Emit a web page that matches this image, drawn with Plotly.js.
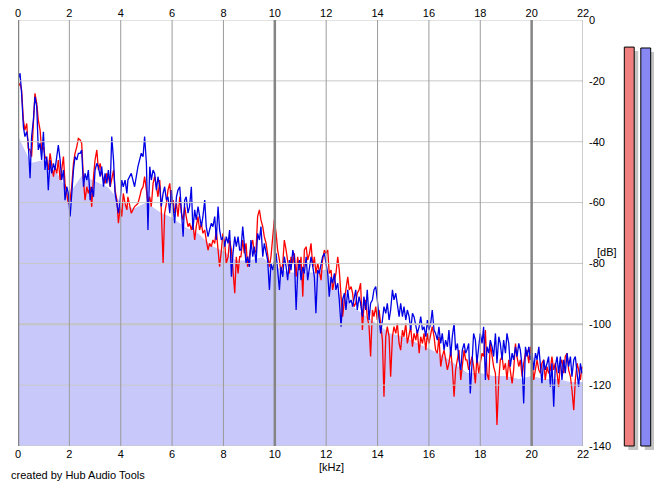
<!DOCTYPE html>
<html>
<head>
<meta charset="utf-8">
<script src="https://cdn.plot.ly/plotly-3.0.1.min.js"></script>
<style>
html,body{margin:0;padding:0;background:#fff;}
#chart{width:665px;height:487px;}
</style>
</head>
<body>
<div id="chart"></div>
<script>
// ---- data ----
const freqKHz = [
0.00,0.08,0.14,0.21,0.27,0.34,0.40,0.47,0.53,0.60,0.66,0.73,0.79,0.86,0.92,0.99,1.05,1.12,1.18,1.25,
1.31,1.38,1.44,1.51,1.57,1.64,1.70,1.77,1.83,1.90,1.96,2.03,2.09,2.16,2.22,2.29,2.35,2.42,2.48,2.55,
2.61,2.68,2.74,2.81,2.87,2.94,3.00,3.07,3.13,3.20,3.26,3.33,3.39,3.46,3.52,3.59,3.65,3.72,3.78,3.85,
3.91,3.98,4.04,4.10,4.17,4.24,
4.28,4.41,4.54,4.67,4.74,4.80,4.87,4.93,5.00,5.06,5.13,5.19,5.26,5.32,5.39,5.45,5.52,5.58,5.65,5.71,
5.78,5.84,5.91,5.97,6.04,6.10,6.17,6.23,6.30,6.36,6.43,6.49,6.55,6.62,6.68,6.75,6.81,6.88,6.94,7.01,
7.07,7.14,7.20,7.27,7.33,7.40,7.46,7.53,7.59,7.66,7.72,7.79,7.85,7.92,7.98,8.05,8.11,8.18,8.24,8.31,
8.37,8.44,8.50,8.57,8.63,
8.68,8.75,8.81,8.88,8.94,9.01,9.07,9.14,9.20,9.27,9.33,9.40,9.46,9.53,9.59,9.66,9.72,9.79,9.85,9.92,
9.98,10.05,10.11,10.18,10.24,10.31,10.37,10.44,10.50,10.57,10.63,10.70,10.76,10.83,10.89,10.96,11.02,11.09,11.15,11.22,
11.28,11.35,11.41,11.48,11.54,11.60,11.67,11.73,11.80,11.86,11.93,11.99,12.06,12.12,12.19,12.25,12.32,12.38,12.45,12.51,
12.58,12.64,12.71,12.77,12.84,12.90,12.97,13.03,
13.08,13.15,13.21,13.28,13.34,13.41,13.47,13.54,13.60,13.67,13.73,13.80,13.86,13.93,13.99,14.06,14.12,14.19,14.25,14.32,
14.38,14.45,14.51,14.58,14.64,14.71,14.77,14.84,14.90,14.97,15.03,15.10,15.16,15.23,15.29,15.36,15.42,15.49,15.55,15.62,
15.68,15.75,15.81,15.88,15.94,16.00,16.07,16.13,16.20,16.26,16.33,16.39,16.46,16.52,16.59,16.65,16.72,16.78,16.85,16.91,
16.98,17.04,17.11,17.17,17.24,17.30,17.37,17.43,
17.48,17.55,17.61,17.68,17.74,17.81,17.87,17.94,18.00,18.07,18.13,18.20,18.26,18.33,18.39,18.46,18.52,18.59,18.65,18.72,
18.78,18.85,18.91,18.98,19.04,19.11,19.17,19.24,19.30,19.37,19.43,19.50,19.56,19.63,19.69,19.76,19.82,19.89,19.95,20.02,
20.08,20.15,20.21,20.28,20.34,20.40,20.47,20.53,20.60,20.66,20.73,20.79,20.86,20.92,20.99,21.05,21.12,21.18,21.25,21.31,
21.38,21.44,21.51,21.57,21.64,21.70,21.77,21.83,21.90,21.96
];

// left channel (red), dB
const leftDb = [
-21.9,-20.8,-23.0,-32.9,-36.2,-34.0,-42.2,-42.7,-44.9,-35.1,
-24.1,-27.4,-32.9,-36.2,-42.7,-41.6,-44.9,-46.0,-49.3,-43.8,
-48.2,-51.5,-48.2,-50.4,-46.0,-52.6,-49.3,-44.9,-53.7,-57.0,
-60.3,-59.2,-54.8,-47.1,-43.8,-41.6,-38.9,-39.4,-40.5,-52.6,
-59.2,-54.8,-57.0,-54.8,-61.4,-51.5,-46.0,-42.7,-49.3,-47.1,
-50.4,-52.6,-53.7,-50.4,-51.5,-54.8,-52.6,-49.3,-55.9,-59.2,
-66.8,-61.4,-64.6,-57.0,-60.3,-62.4,
-58.1,-63.5,-61.3,-60.3,-58.1,-55.9,-54.8,-51.5,-55.9,-60.3,
-58.1,-61.3,-53.7,-51.5,-54.8,-58.1,-52.6,-62.4,-80.0,-63.5,
-60.3,-55.9,-53.7,-60.3,-59.2,-63.5,-60.3,-64.6,-58.1,-63.5,
-65.7,-61.3,-64.6,-67.9,-66.8,-69.0,-66.8,-72.3,-67.9,-64.6,
-69.0,-66.8,-70.1,-69.0,-72.3,-75.6,-73.4,-74.5,-72.3,-73.4,
-69.0,-74.5,-81.1,-75.6,-70.1,-73.4,-80.0,-77.8,-72.3,-75.6,
-82.2,-89.8,-77.8,-83.3,-77.8,
-77.8,-72.3,-76.7,-73.4,-81.1,-77.8,-74.5,-72.3,-76.7,-75.6,
-64.6,-62.4,-65.7,-67.9,-71.2,-73.4,-76.7,-81.1,-77.8,-72.3,
-65.7,-70.1,-75.6,-78.9,-83.3,-80.0,-72.3,-75.6,-80.0,-83.3,
-77.8,-80.0,-76.7,-84.4,-77.8,-82.2,-77.8,-90.9,-75.6,-74.5,
-78.9,-76.7,-73.4,-81.1,-77.8,-83.3,-80.0,-82.2,-85.5,-78.9,
-75.6,-76.7,-75.6,-83.3,-82.2,-88.7,-85.5,-83.3,-77.8,-82.2,
-90.9,-97.5,-92.0,-88.7,-84.4,-88.7,-87.6,-89.8,
-94.2,-93.1,-89.8,-88.7,-86.5,-101.9,-94.2,-92.0,-97.5,-100.8,
-110.6,-95.3,-97.5,-94.2,-98.6,-95.3,-100.8,-105.2,-123.8,-104.1,
-100.8,-104.1,-117.2,-104.1,-100.8,-103.0,-99.7,-106.3,-108.5,-101.9,
-104.1,-99.7,-106.3,-103.0,-100.8,-107.4,-103.0,-105.2,-101.9,-109.5,
-104.1,-106.3,-103.0,-108.5,-103.0,-106.3,-103.0,-100.8,-104.1,-108.5,
-109.5,-104.1,-113.9,-110.6,-108.5,-111.7,-115.0,-112.8,-108.5,-113.9,
-123.8,-115.0,-110.6,-108.5,-118.3,-112.8,-108.5,-111.7,
-111.7,-115.0,-112.8,-110.6,-113.9,-119.4,-110.6,-116.1,-112.8,-109.5,
-110.6,-101.9,-116.1,-118.3,-106.3,-110.6,-113.9,-116.1,-133.1,-118.3,
-111.7,-110.6,-115.0,-112.8,-118.3,-111.7,-115.0,-119.4,-115.0,-106.3,
-110.6,-113.9,-111.7,-117.2,-112.8,-109.5,-108.5,-112.8,-107.4,-111.7,
-118.3,-113.9,-111.7,-115.0,-116.1,-112.8,-111.7,-118.3,-113.9,-116.1,
-115.0,-110.6,-115.0,-112.8,-116.1,-120.5,-112.8,-111.7,-116.1,-110.6,
-109.5,-115.0,-117.2,-121.6,-128.2,-118.3,-112.8,-115.0,-118.3,-113.9
];

// right channel (blue), dB
const rightDb = [
-19.7,-17.5,-24.1,-35.1,-38.3,-36.7,-40.5,-52.0,-38.3,-32.9,
-25.2,-28.5,-42.7,-40.5,-46.0,-36.7,-49.3,-44.9,-55.9,-46.0,
-50.4,-47.1,-49.3,-43.8,-41.1,-46.0,-52.6,-49.3,-59.2,-54.8,
-57.0,-64.6,-57.0,-49.3,-44.9,-46.0,-43.8,-43.8,-42.7,-54.8,
-50.4,-52.6,-49.3,-59.2,-54.8,-58.1,-49.3,-47.1,-48.2,-51.5,
-48.2,-54.8,-50.4,-53.7,-49.3,-54.8,-38.3,-46.0,-57.0,-61.4,
-63.5,-59.2,-52.6,-54.8,-52.6,-57.0,
-52.6,-50.4,-54.8,-48.2,-46.0,-43.8,-44.9,-38.3,-47.1,-69.0,
-48.2,-52.6,-49.3,-50.4,-55.9,-51.5,-54.8,-61.3,-57.0,-54.8,
-59.2,-58.1,-63.5,-55.9,-61.3,-66.8,-58.1,-55.9,-54.8,-61.3,
-71.2,-59.2,-58.1,-63.5,-61.3,-54.8,-69.0,-62.4,-65.7,-61.3,
-64.6,-67.9,-64.6,-59.2,-67.9,-71.2,-69.0,-66.8,-67.9,-64.6,
-72.3,-61.3,-69.0,-72.3,-71.2,-74.5,-71.2,-73.4,-69.0,-84.4,
-76.7,-71.2,-74.5,-71.2,-75.6,
-75.6,-67.9,-74.5,-80.0,-77.8,-81.1,-72.3,-77.8,-74.5,-80.0,
-70.1,-72.3,-67.9,-77.8,-73.4,-76.7,-78.9,-88.7,-80.0,-82.2,
-80.0,-76.7,-82.2,-88.7,-81.1,-84.4,-77.8,-81.1,-85.5,-78.9,
-82.2,-75.6,-77.8,-95.3,-83.3,-78.9,-85.5,-81.1,-83.3,-77.8,
-85.5,-81.1,-77.8,-81.1,-84.4,-96.4,-82.2,-83.3,-80.0,-77.8,
-76.7,-80.0,-83.3,-90.9,-84.4,-86.5,-83.3,-88.7,-86.5,-92.0,
-100.8,-92.0,-89.8,-95.3,-88.7,-93.1,-92.0,-94.2,
-92.0,-88.7,-95.3,-90.9,-93.1,-97.5,-90.9,-95.3,-88.7,-98.6,
-93.1,-92.0,-88.7,-87.6,-92.0,-97.5,-103.0,-98.6,-94.2,-96.4,
-93.1,-98.6,-95.3,-88.7,-92.0,-89.8,-94.2,-97.5,-93.1,-97.5,
-94.2,-98.6,-95.3,-97.5,-101.9,-96.4,-97.5,-100.8,-103.0,-100.8,
-97.5,-101.9,-100.8,-104.1,-98.6,-101.9,-99.7,-95.3,-101.9,-103.0,
-105.2,-100.8,-106.3,-103.0,-108.5,-105.2,-107.4,-101.9,-110.6,-104.1,
-99.7,-108.5,-106.3,-111.7,-115.0,-108.5,-106.3,-109.5,
-108.5,-106.3,-122.7,-112.8,-103.0,-105.2,-112.8,-107.4,-103.0,-106.3,
-100.8,-118.3,-107.4,-109.5,-105.2,-107.4,-110.6,-103.0,-112.8,-104.1,
-106.3,-111.7,-105.2,-109.5,-103.0,-106.3,-113.9,-109.5,-111.7,-107.4,
-110.6,-106.3,-108.5,-113.9,-126.0,-107.4,-110.6,-107.4,-111.7,-109.5,
-115.0,-109.5,-111.7,-107.4,-113.9,-119.4,-111.7,-115.0,-112.8,-110.6,
-120.5,-112.8,-127.1,-113.9,-110.6,-116.1,-110.6,-118.3,-111.7,-116.1,
-109.5,-113.9,-110.6,-117.2,-111.7,-110.6,-116.1,-120.5,-112.8,-116.1
];

// lavender floor area (top edge)
const floorKHz = [0,0.5,1,1.5,2,2.5,3,3.5,4,4.5,5,5.5,6,6.5,7,7.5,8,8.5,9,9.5,10,10.5,11,11.5,12,12.5,13,13.5,14,14.5,15,15.5,16,16.5,17,17.5,18,18.5,19,19.5,20,20.5,21,21.5,22];
const floorDb = [-38,-47,-46,-50,-57,-51,-53,-55,-60,-62,-60,-63,-65,-68,-70,-74,-76,-79,-79,-78,-81,-83,-83,-83,-82,-90,-94,-97,-100,-103,-104,-106,-108,-110,-113,-116,-116,-117,-117,-118,-117,-118,-118,-119,-119];

// level meters (right side)
const meterNames = ['L','R'];
const meterDb = [-8.9, -9.2];

// axes
const xTicks = [0,2,4,6,8,10,12,14,16,18,20,22];
const xTickLabels = ['0','2','4','6','8','10','12','14','16','18','20','22'];
const yTicks = [0,-20,-40,-60,-80,-100,-120,-140];
const yTickLabels = ['0','-20','-40','-60','-80','-100','-120','-140'];

// ---- geometry ----
const W = 665, H = 487;
const M = {l:18, r:11, t:20, b:35};
const pw = W - M.l - M.r, ph = H - M.t - M.b;
const plotRightPx = 583, plotBottomPx = 446;
const xDomMain = [0, (plotRightPx - M.l) / pw];
const yDomMain = [(H - M.b - plotBottomPx) / ph, 1];
const meterLeftPx = 621;
const xDomMeter = [(meterLeftPx - M.l) / pw, 1];
const yMin = -140, yMax = 0;
const pxPerDb = (plotBottomPx - M.t) / (yMax - yMin);
const meterRange = [yMin - (H - M.b - plotBottomPx) / pxPerDb, yMax];
const pxPerCat = (W - M.r - meterLeftPx) / 2;
const barW = 0.6;
const shadowPx = 4;

const font = {family: 'Liberation Sans, Arial, sans-serif', size: 11, color: '#000'};
const n = Math.min(freqKHz.length, leftDb.length, rightDb.length);
const fx = freqKHz.slice(0, n);

const traces = [
  {x: floorKHz, y: floorKHz.map(() => yMin), mode: 'lines', line: {width: 0, color: 'rgba(0,0,0,0)'},
   hoverinfo: 'skip', showlegend: false, xaxis: 'x', yaxis: 'y'},
  {x: floorKHz, y: floorDb, mode: 'lines', fill: 'tonexty', fillcolor: '#c8c8fa',
   line: {width: 0, color: 'rgba(0,0,0,0)'}, hoverinfo: 'skip', showlegend: false, xaxis: 'x', yaxis: 'y'},
  {x: fx, y: leftDb.slice(0, n), mode: 'lines', line: {color: '#ff0000', width: 1.3}, showlegend: false, xaxis: 'x', yaxis: 'y'},
  {x: fx, y: rightDb.slice(0, n), mode: 'lines', line: {color: '#0000e6', width: 1.3}, showlegend: false, xaxis: 'x', yaxis: 'y'},
  {x: xTicks, y: xTicks.map(() => null), mode: 'lines', showlegend: false, hoverinfo: 'skip', xaxis: 'x2', yaxis: 'y'},
  // meter shadows
  {type: 'bar', x: meterNames, y: meterDb.map(v => v - yMin), base: yMin - shadowPx / pxPerDb,
   width: barW, offset: -barW / 2 + shadowPx / pxPerCat, marker: {color: '#c4c4c4', line: {width: 0}},
   showlegend: false, hoverinfo: 'skip', xaxis: 'x3', yaxis: 'y3'},
  // meters
  {type: 'bar', x: meterNames, y: meterDb.map(v => v - yMin), base: yMin,
   width: barW, offset: -barW / 2, marker: {color: ['#f08080', '#8888f4'], line: {color: '#000', width: 1}},
   showlegend: false, hoverinfo: 'skip', xaxis: 'x3', yaxis: 'y3'}
];

const shapes = [];
yTicks.forEach(v => {
  shapes.push({type: 'line', xref: 'x', yref: 'y', x0: 0, x1: 22, y0: v, y1: v, layer: 'above',
    line: {color: v === -100 ? '#c4c4c4' : '#c8c8c8', width: v === -100 ? 2 : 1}});
});
xTicks.forEach(v => {
  const major = v % 10 === 0;
  shapes.push({type: 'line', xref: 'x', yref: 'y', x0: v, x1: v, y0: yMin, y1: yMax, layer: 'above',
    line: {color: major ? '#858585' : '#9c9c9c', width: major ? 2.5 : 1}});
});

const layout = {
  width: W, height: H,
  margin: M,
  paper_bgcolor: '#fff', plot_bgcolor: '#fff',
  font: font,
  showlegend: false,
  barmode: 'overlay',
  xaxis: {domain: xDomMain, range: [0, 22], anchor: 'y', tickvals: xTicks, ticktext: xTickLabels,
    showgrid: false, zeroline: false, showline: false, ticks: '', tickfont: font, fixedrange: true},
  xaxis2: {overlaying: 'x', side: 'top', anchor: 'y', range: [0, 22], tickvals: xTicks, ticktext: xTickLabels,
    showgrid: false, zeroline: false, showline: false, ticks: '', tickfont: font, fixedrange: true},
  yaxis: {domain: yDomMain, range: [yMin, yMax], anchor: 'x', side: 'right', tickvals: yTicks, ticktext: yTickLabels,
    showgrid: false, zeroline: false, showline: false, ticks: '', tickfont: font, fixedrange: true,
    ticklabelstandoff: 5},
  xaxis3: {domain: xDomMeter, anchor: 'y3', range: [-0.5, 1.5], visible: false, fixedrange: true},
  yaxis3: {domain: [0, 1], anchor: 'x3', range: meterRange, visible: false, fixedrange: true},
  shapes: shapes,
  annotations: [
    {text: '[dB]', xref: 'paper', yref: 'paper', x: (607 - M.l) / pw, y: (H - M.b - 252) / ph,
     xanchor: 'center', yanchor: 'middle', showarrow: false, font: font},
    {text: '[kHz]', xref: 'paper', yref: 'paper', x: (331 - M.l) / pw, y: (H - M.b - 467) / ph,
     xanchor: 'center', yanchor: 'middle', showarrow: false, font: font},
    {text: 'created by Hub Audio Tools', xref: 'paper', yref: 'paper', x: (9 - M.l) / pw, y: (H - M.b - 475) / ph,
     xanchor: 'left', yanchor: 'middle', showarrow: false, font: font}
  ]
};

Plotly.newPlot('chart', traces, layout, {displayModeBar: false, staticPlot: true});
</script>
</body>
</html>
